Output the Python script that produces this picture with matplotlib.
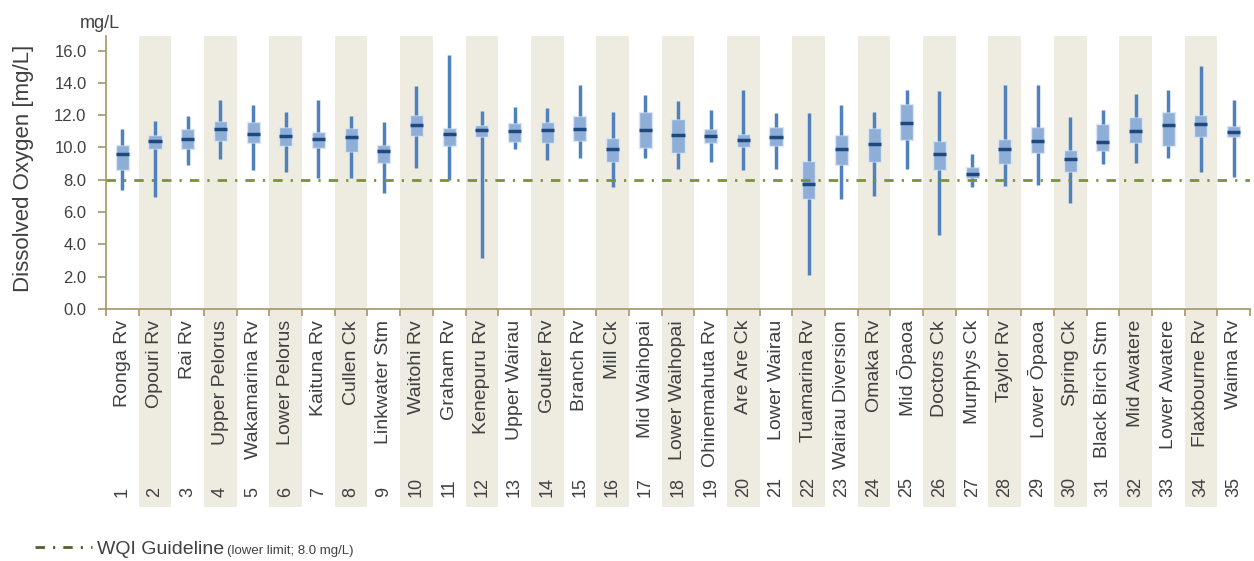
import matplotlib.pyplot as plt
from matplotlib import font_manager
from matplotlib.patches import Rectangle

plt.rcParams['font.family'] = ['Liberation Sans', 'DejaVu Sans']

# site names and numbers
sites = ["Ronga Rv", "Opouri Rv", "Rai Rv", "Upper Pelorus", "Wakamarina Rv",
         "Lower Pelorus", "Kaituna Rv", "Cullen Ck", "Linkwater Stm", "Waitohi Rv",
         "Graham Rv", "Kenepuru Rv", "Upper Wairau", "Goulter Rv", "Branch Rv",
         "Mill Ck", "Mid Waihopai", "Lower Waihopai", "Ohinemahuta Rv", "Are Are Ck",
         "Lower Wairau", "Tuamarina Rv", "Wairau Diversion", "Omaka Rv", "Mid Ōpaoa",
         "Doctors Ck", "Murphys Ck", "Taylor Rv", "Lower Ōpaoa", "Spring Ck",
         "Black Birch Stm", "Mid Awatere", "Lower Awatere", "Flaxbourne Rv", "Waima Rv"]
site_no = list(range(1, 36))

# box statistics (mg/L)
whisk_hi = [11.14, 11.66, 11.97, 12.96, 12.65, 12.17, 12.96, 11.94, 11.57, 13.78,
            15.75, 12.25, 12.50, 12.42, 13.85, 12.17, 13.22, 12.85, 12.34, 13.56,
            12.11, 12.11, 12.63, 12.17, 13.56, 13.47, 9.61, 13.84, 13.84, 11.88,
            12.34, 13.31, 13.56, 15.07, 12.94]
q3 = [10.15, 10.75, 11.14, 11.66, 11.57, 11.28, 10.97, 11.20, 10.15, 12.03,
      11.20, 11.37, 11.51, 11.57, 11.94, 10.60, 12.17, 11.74, 11.14, 10.83,
      11.28, 9.16, 10.75, 11.22, 12.71, 10.40, 8.78, 10.52, 11.28, 9.84,
      11.43, 11.88, 12.17, 12.03, 11.35]
median = [9.59, 10.40, 10.54, 11.16, 10.85, 10.70, 10.54, 10.62, 9.80, 11.39,
          10.85, 11.08, 11.01, 11.08, 11.16, 9.88, 11.08, 10.77, 10.70, 10.48,
          10.62, 7.75, 9.88, 10.19, 11.53, 9.59, 8.37, 9.88, 10.40, 9.28,
          10.33, 11.01, 11.37, 11.45, 10.93]
q1 = [8.60, 9.88, 9.88, 10.40, 10.25, 10.10, 9.96, 9.71, 9.03, 10.70,
      10.10, 10.62, 10.33, 10.25, 10.40, 9.11, 9.96, 9.65, 10.25, 10.02,
      10.10, 6.78, 8.91, 9.11, 10.48, 8.60, 8.08, 8.97, 9.65, 8.51,
      9.80, 10.25, 10.10, 10.62, 10.64]
whisk_lo = [7.38, 6.92, 8.89, 9.26, 8.58, 8.51, 8.14, 8.14, 7.17, 8.72,
            8.00, 3.14, 9.88, 9.20, 9.34, 7.54, 9.34, 8.68, 9.11, 8.60,
            8.68, 2.11, 6.80, 7.00, 8.68, 4.59, 7.54, 7.63, 7.69, 6.55,
            8.97, 9.03, 9.34, 8.51, 8.20]

guideline = 8.0
yticks = [0, 2, 4, 6, 8, 10, 12, 14, 16]

fig = plt.figure(figsize=(12.54, 5.61), dpi=100)
ax = fig.add_axes([0.0845, 0.4492, 0.9123, 0.4866])

spine_col = "#a39668"
text_col = "#404040"
shade_col = "#eeece1"
dash = (0, (3.4, 2.9, 0.8, 2.9))

# shaded columns, running down through the labels
for i in site_no:
    if i % 2 == 0:
        ax.add_patch(Rectangle((i - 0.5, -0.725), 1.0, 1.725,
                               transform=ax.get_xaxis_transform(),
                               facecolor=shade_col, edgecolor="none",
                               clip_on=False, zorder=0))

stats = []
for i in range(len(sites)):
    stats.append({"med": median[i], "q1": q1[i], "q3": q3[i],
                  "whislo": whisk_lo[i], "whishi": whisk_hi[i], "fliers": []})

ax.bxp(stats, positions=site_no, widths=0.4, patch_artist=True,
       showcaps=False, showfliers=False,
       boxprops=dict(facecolor="#8eaed8", edgecolor="#dce6f2", linewidth=1),
       whiskerprops=dict(color="#4f81bd", linewidth=2.5, solid_capstyle="butt"),
       medianprops=dict(color="#1f497d", linewidth=2.5, solid_capstyle="butt"),
       zorder=3)

ax.axhline(guideline, color="#77933c", linewidth=2, linestyle=dash, zorder=4)

ax.set_xlim(0.5, 35.5)
ax.set_ylim(0, 16.9)
ax.set_yticks(yticks)
ax.set_yticklabels([f"{v:.1f}" for v in yticks])
ax.set_xticks([i + 0.5 for i in range(0, 36)])
ax.set_xticklabels([])
ax.tick_params(axis="both", colors=spine_col, length=5, width=1.2)
ax.tick_params(axis="y", labelcolor=text_col, labelsize=12, length=6, pad=8)

for s in ["top", "right"]:
    ax.spines[s].set_visible(False)
for s in ["left", "bottom"]:
    ax.spines[s].set_color(spine_col)
    ax.spines[s].set_linewidth(1.2)
ax.patch.set_alpha(0)

fig.text(0.0185, 0.70, "Dissolved Oxygen [mg/L]", rotation=90, fontsize=16,
         color=text_col, ha="center", va="center")
fig.text(0.0795, 0.959, "mg/L", fontsize=13, color=text_col, ha="center", va="center")

tr = ax.get_xaxis_transform()
for i, name in zip(site_no, sites):
    ax.text(i, -0.04, name, transform=tr, rotation=90, ha="center", va="top",
            fontsize=14, color=text_col)
    ax.text(i, -0.69, str(i), transform=tr, rotation=90, ha="center", va="bottom",
            fontsize=13, color=text_col)

# legend entry
fig.lines.append(plt.Line2D([0.028, 0.0735], [0.025, 0.025], transform=fig.transFigure,
                            color="#4f6228", linewidth=2, linestyle=dash))
t = fig.text(0.0774, 0.0125, "WQI Guideline", fontsize=14, color=text_col,
             va="baseline")
fig.canvas.draw()
bb = t.get_window_extent().transformed(fig.transFigure.inverted())

narrow = [f.name for f in font_manager.fontManager.ttflist if f.name == "Liberation Sans Narrow"]
if narrow:
    fig.text(bb.x1 + 0.002, 0.0125, "(lower limit; 8.0 mg/L)", fontsize=11.5,
             family=["Liberation Sans Narrow", "Liberation Sans"], color=text_col,
             va="baseline")
else:
    fig.text(bb.x1 + 0.002, 0.0125, "(lower limit; 8.0 mg/L)", fontsize=9.5,
             color=text_col, va="baseline")

plt.savefig("out.png", dpi=100)
